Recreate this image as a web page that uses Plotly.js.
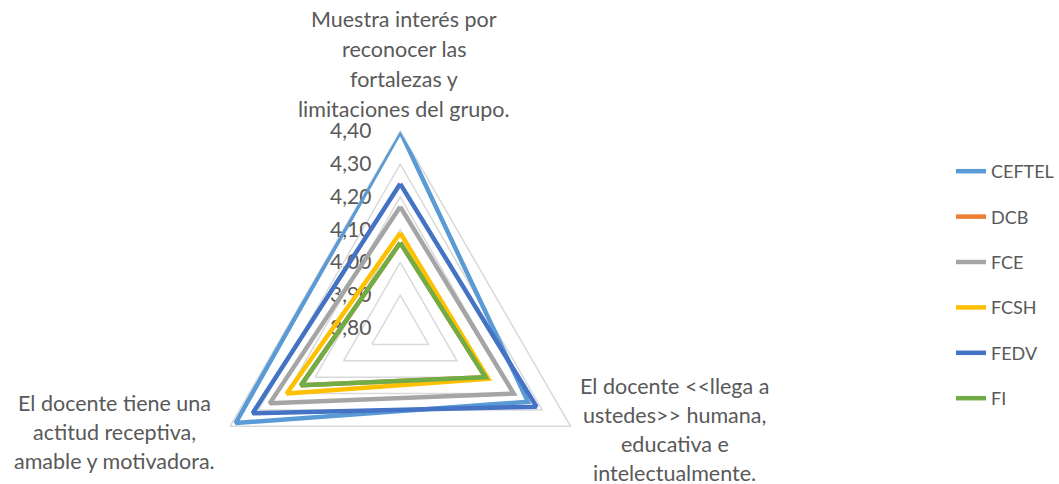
<!DOCTYPE html>
<html><head><meta charset="utf-8">
<script src="https://cdn.plot.ly/plotly-3.0.1.min.js"></script>
<style>html,body{margin:0;padding:0;overflow:hidden;background:#fff;width:1059px;height:484px}#chart{position:absolute;left:0;top:0;width:1059px;height:700px}</style>
</head><body><div id="chart"></div>
<script>
var categories = [
  "Muestra interés por reconocer las fortalezas y limitaciones del grupo.",
  "El docente <<llega a ustedes>> humana, educativa e intelectualmente.",
  "El docente tiene una actitud receptiva, amable y motivadora."
];
var categoryLines = [
  ["Muestra interés por", "reconocer las", "fortalezas y", "limitaciones del grupo."],
  ["El docente &lt;&lt;llega a", "ustedes&gt;&gt; humana,", "educativa e", "intelectualmente."],
  ["El docente tiene una", "actitud receptiva,", "amable y motivadora."]
];
var seriesNames = ["CEFTEL", "DCB", "FCE", "FCSH", "FEDV", "FI"];
var CEFTEL = [4.40, 4.25, 4.38];
var DCB    = [4.06, 4.10, 4.15];
var FCE    = [4.17, 4.20, 4.26];
var FCSH   = [4.09, 4.11, 4.20];
var FEDV   = [4.24, 4.28, 4.32];
var FI     = [4.06, 4.10, 4.15];
var seriesValues = [CEFTEL, DCB, FCE, FCSH, FEDV, FI];
var seriesColors = ["#5B9BD5", "#ED7D31", "#A5A5A5", "#FFC000", "#4472C4", "#70AD47"];
var radialTicks = [3.80, 3.90, 4.00, 4.10, 4.20, 4.30, 4.40];

var H = 700, W = 1059;
var FONT = "Lato, 'Open Sans', sans-serif";
var TXT = "#595959";

var traces = seriesNames.map(function(n, i){
  var r = seriesValues[i].concat([seriesValues[i][0]]);
  var th = categories.concat([categories[0]]);
  return {type:"scatterpolar", mode:"lines", name:n, r:r, theta:th,
    line:{color:seriesColors[i], width:4.5}, legendgroup:n, hoverinfo:"skip"};
});

var labelBlocks = [
  {x:405, y0:19, dy:30},
  {x:676, y0:386, dy:29},
  {x:115, y0:403, dy:29}
];
var annotations = [];
categoryLines.forEach(function(lines, ci){
  var b = labelBlocks[ci];
  lines.forEach(function(t, li){
    annotations.push({xref:"paper", yref:"paper", x:b.x/W, y:(H-(b.y0+li*b.dy))/H,
      xanchor:"center", yanchor:"middle", text:t, showarrow:false,
      font:{family:FONT, size:21.5, color:TXT}});
  });
});

var cx = 401, cy = 328, R = 197;
var layout = {
  width:W, height:H, margin:{l:0,r:0,t:0,b:0},
  paper_bgcolor:"#fff", plot_bgcolor:"#fff",
  separators:",.",
  showlegend:true,
  legend:{x:953/W, xanchor:"left", y:(H-153)/H, yanchor:"top", tracegroupgap:19,
    itemwidth:30, font:{family:FONT, size:18, color:TXT}, bgcolor:"rgba(0,0,0,0)"},
  annotations:annotations,
  polar:{
    domain:{x:[(cx-R)/W, (cx+R)/W], y:[(H-cy-R)/H, (H-cy+R)/H]},
    gridshape:"linear", bgcolor:"#fff",
    radialaxis:{range:[3.8,4.4], tickvals:radialTicks, tickformat:".2f", angle:90, tickangle:90,
      side:"counterclockwise", showline:false, ticks:"outside", ticklen:21, tickcolor:"rgba(0,0,0,0)",
      gridcolor:"#D9D9D9", gridwidth:1.5,
      layer:"below traces", tickfont:{family:FONT, size:21, color:TXT}},
    angularaxis:{direction:"clockwise", rotation:90, showgrid:false, showline:true,
      linecolor:"#D9D9D9", linewidth:1.5, showticklabels:false, ticks:"", layer:"below traces"}
  }
};
Plotly.newPlot("chart", traces, layout, {staticPlot:true, displayModeBar:false});
</script></body></html>
